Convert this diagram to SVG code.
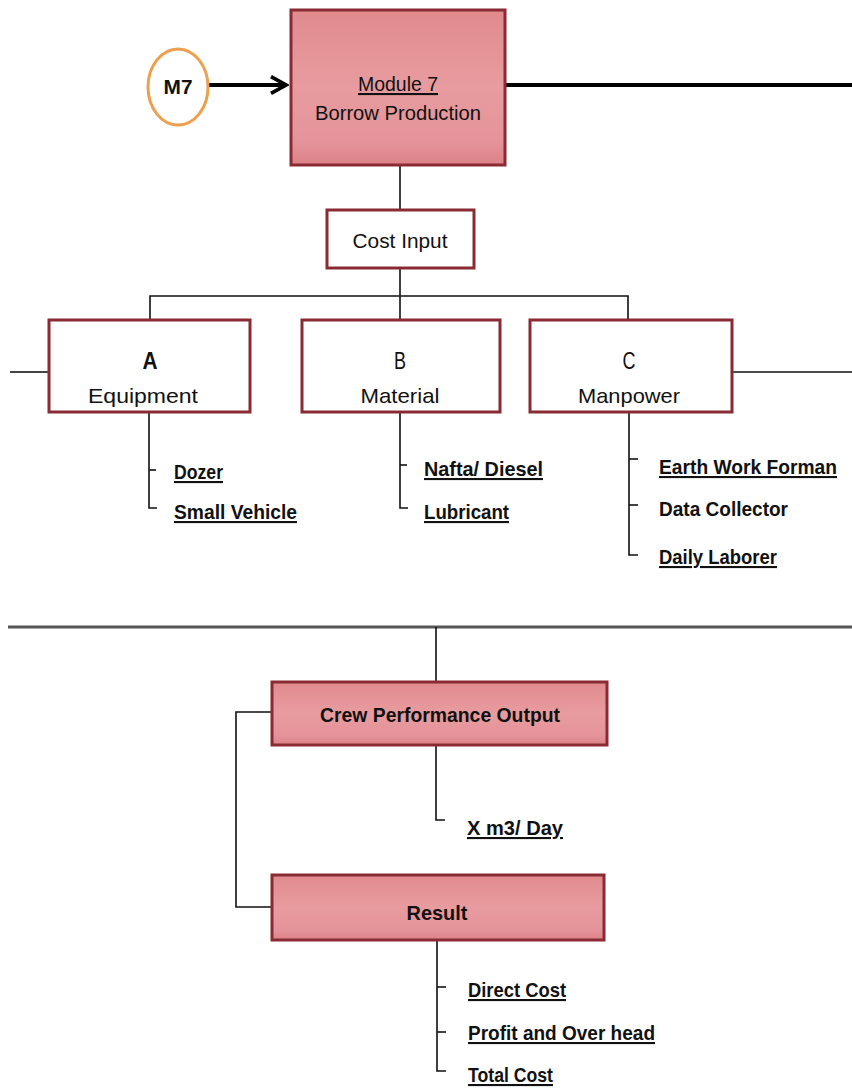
<svg xmlns="http://www.w3.org/2000/svg" width="852" height="1089" viewBox="0 0 852 1089">
  <defs>
    <linearGradient id="pinkFill" x1="0" y1="0" x2="0" y2="1">
      <stop offset="0" stop-color="#e08a8e"/>
      <stop offset="0.5" stop-color="#e89c9f"/>
      <stop offset="0.85" stop-color="#e4939a"/>
      <stop offset="1" stop-color="#dc8288"/>
    </linearGradient>
    <marker id="chev" viewBox="0 0 12 12" refX="10" refY="6" markerWidth="5" markerHeight="5" orient="auto" markerUnits="strokeWidth">
      <path d="M1,1 L10,6 L1,11" fill="none" stroke="#000" stroke-width="2.2"/>
    </marker>
  </defs>
  <style>
    .dark { fill: url(#pinkFill); stroke: #8a2b33; stroke-width: 3; }
    .light { fill: #ffffff; stroke: #8a2b33; stroke-width: 3; }
    .wire { fill: none; stroke: #111; stroke-width: 1.6; }
    .t { font-family: "Liberation Sans", Arial, sans-serif; font-size: 21px; fill: #111; }
    .b { font-weight: bold; }
    .u { text-decoration: underline; }
    .big { font-size: 24px; }
  </style>
  <rect width="852" height="1089" fill="#ffffff"/>

  <!-- connectors -->
  <g id="connectors">
    <line x1="209" y1="85" x2="286" y2="85" stroke="#000" stroke-width="4" marker-end="url(#chev)"/>
    <line x1="506" y1="85" x2="852" y2="85" stroke="#000" stroke-width="4"/>
    <line class="wire" x1="400" y1="166" x2="400" y2="210"/>
    <line class="wire" x1="400" y1="269" x2="400" y2="296"/>
    <polyline class="wire" points="150,320 150,296 628,296 628,320"/>
    <line class="wire" x1="400" y1="296" x2="400" y2="320"/>
    <line x1="10" y1="372" x2="49" y2="372" stroke="#444" stroke-width="2"/>
    <line class="wire" x1="732" y1="372" x2="852" y2="372"/>
    <!-- equipment items -->
    <polyline class="wire" points="149,413 149,508 157,508"/>
    <line class="wire" x1="149" y1="470" x2="156" y2="470"/>
    <!-- material items -->
    <polyline class="wire" points="400,413 400,508 408,508"/>
    <line class="wire" x1="400" y1="465" x2="407" y2="465"/>
    <!-- manpower items -->
    <polyline class="wire" points="629,413 629,555 638,555"/>
    <line class="wire" x1="629" y1="459" x2="638" y2="459"/>
    <line class="wire" x1="629" y1="505" x2="638" y2="505"/>
    <!-- divider -->
    <line x1="8" y1="627" x2="852" y2="627" stroke="#555" stroke-width="3"/>
    <line class="wire" x1="436" y1="627" x2="436" y2="682"/>
    <polyline class="wire" points="272,712 236,712 236,907 272,907"/>
    <polyline class="wire" points="436,746 436,820 445,820"/>
    <polyline class="wire" points="437,941 437,1071 446,1071"/>
    <line class="wire" x1="437" y1="987" x2="446" y2="987"/>
    <line class="wire" x1="437" y1="1032" x2="446" y2="1032"/>
  </g>

  <g id="m7">
    <ellipse cx="178" cy="87" rx="30" ry="38" fill="#ffffff" stroke="#ee9f4e" stroke-width="3"/>
    <text class="t b" x="178" y="94" text-anchor="middle" textLength="29" lengthAdjust="spacingAndGlyphs">M7</text>
  </g>

  <g id="module7">
    <rect class="dark" x="291" y="10" width="214" height="155"/>
    <text class="t u" x="398" y="91" text-anchor="middle" textLength="80" lengthAdjust="spacingAndGlyphs">Module 7</text>
    <text class="t" x="398" y="120" text-anchor="middle" textLength="166" lengthAdjust="spacingAndGlyphs">Borrow Production</text>
  </g>

  <g id="cost-input">
    <rect class="light" x="327" y="210" width="147" height="58"/>
    <text class="t" x="400" y="248" text-anchor="middle" textLength="95" lengthAdjust="spacingAndGlyphs">Cost Input</text>
  </g>

  <g id="equipment">
    <rect class="light" x="49" y="320" width="201" height="92"/>
    <text class="t b big" x="150" y="369" text-anchor="middle" textLength="15" lengthAdjust="spacingAndGlyphs">A</text>
    <text class="t" x="143" y="403" text-anchor="middle" textLength="110" lengthAdjust="spacingAndGlyphs">Equipment</text>
  </g>

  <g id="material">
    <rect class="light" x="302" y="320" width="198" height="92"/>
    <text class="t big" x="400" y="369" text-anchor="middle" textLength="12" lengthAdjust="spacingAndGlyphs">B</text>
    <text class="t" x="400" y="403" text-anchor="middle" textLength="79" lengthAdjust="spacingAndGlyphs">Material</text>
  </g>

  <g id="manpower">
    <rect class="light" x="530" y="320" width="202" height="92"/>
    <text class="t big" x="629" y="369" text-anchor="middle" textLength="13" lengthAdjust="spacingAndGlyphs">C</text>
    <text class="t" x="629" y="403" text-anchor="middle" textLength="102" lengthAdjust="spacingAndGlyphs">Manpower</text>
  </g>

  <g id="equipment-items">
    <text class="t b u" x="174" y="479" textLength="49" lengthAdjust="spacingAndGlyphs">Dozer</text>
    <text class="t b u" x="174" y="519" textLength="123" lengthAdjust="spacingAndGlyphs">Small Vehicle</text>
  </g>

  <g id="material-items">
    <text class="t b u" x="424" y="476" textLength="119" lengthAdjust="spacingAndGlyphs">Nafta/ Diesel</text>
    <text class="t b u" x="424" y="519" textLength="85" lengthAdjust="spacingAndGlyphs">Lubricant</text>
  </g>

  <g id="manpower-items">
    <text class="t b u" x="659" y="474" textLength="178" lengthAdjust="spacingAndGlyphs">Earth Work Forman</text>
    <text class="t b" x="659" y="516" textLength="129" lengthAdjust="spacingAndGlyphs">Data Collector</text>
    <text class="t b u" x="659" y="564" textLength="118" lengthAdjust="spacingAndGlyphs">Daily Laborer</text>
  </g>

  <g id="crew-output">
    <rect class="dark" x="272" y="682" width="335" height="63"/>
    <text class="t b" x="440" y="722" text-anchor="middle" textLength="240" lengthAdjust="spacingAndGlyphs">Crew Performance Output</text>
    <text class="t b u" x="467" y="835" textLength="96" lengthAdjust="spacingAndGlyphs">X  m3/ Day</text>
  </g>

  <g id="result">
    <rect class="dark" x="272" y="875" width="332" height="65"/>
    <text class="t b" x="437" y="920" text-anchor="middle" textLength="61" lengthAdjust="spacingAndGlyphs">Result</text>
    <text class="t b u" x="468" y="997" textLength="98" lengthAdjust="spacingAndGlyphs">Direct Cost</text>
    <text class="t b u" x="468" y="1040" textLength="187" lengthAdjust="spacingAndGlyphs">Profit and Over head</text>
    <text class="t b u" x="468" y="1082" textLength="85" lengthAdjust="spacingAndGlyphs">Total Cost</text>
  </g>
</svg>
